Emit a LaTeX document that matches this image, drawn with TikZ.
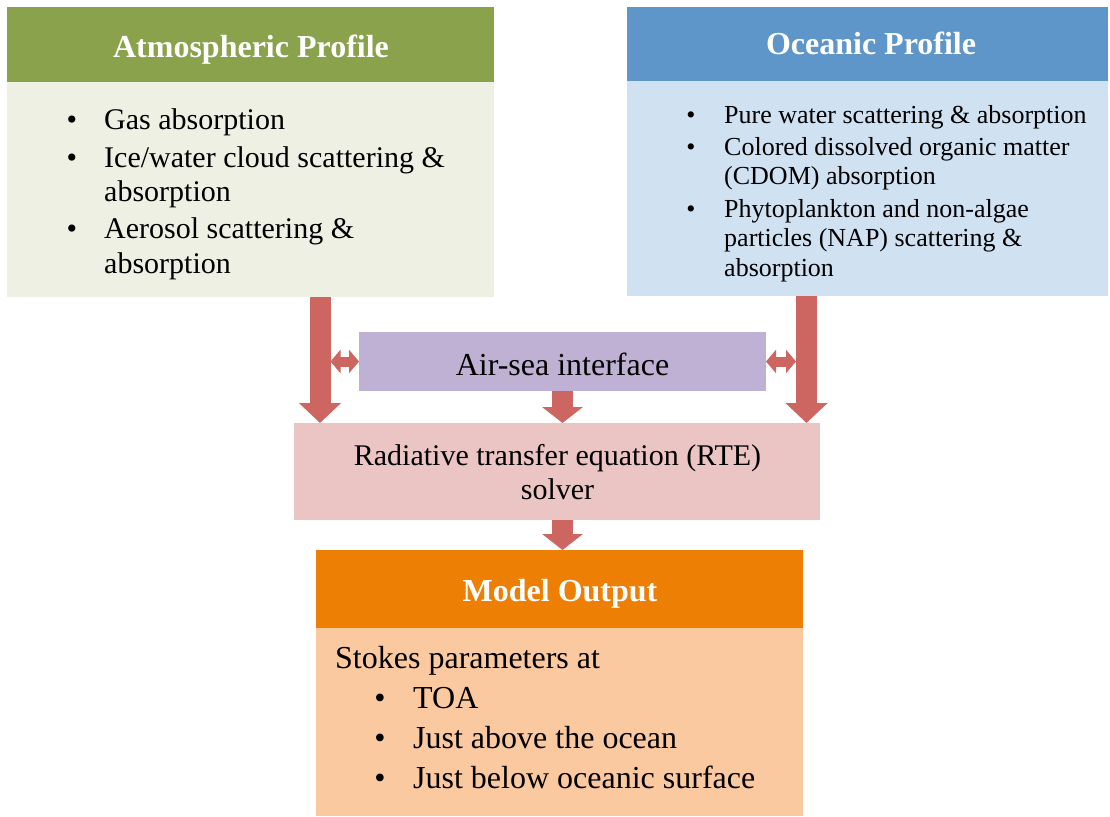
\documentclass[tikz,border=0pt]{standalone}
\usepackage{fontspec}
\setmainfont{Liberation Serif}
\usetikzlibrary{arrows.meta}
\definecolor{atmheadc}{HTML}{8AA24B}
\definecolor{atmbodyc}{HTML}{EDF0E3}
\definecolor{ocheadc}{HTML}{5F96C9}
\definecolor{ocbodyc}{HTML}{D0E1F2}
\definecolor{airseac}{HTML}{BFB1D3}
\definecolor{rtec}{HTML}{EBC5C4}
\definecolor{outheadc}{HTML}{ED7F05}
\definecolor{outbodyc}{HTML}{FAC9A0}
\definecolor{arrowc}{HTML}{CD6660}
\begin{document}
\begin{tikzpicture}[x=1pt,y=-1pt,
  panel/.style={draw=none, inner sep=0pt, outer sep=0pt, anchor=north west},
  hdr/.style={text=white, font=\fontsize{32}{36}\selectfont\bfseries, anchor=base, inner sep=0pt},
  txtA/.style={font=\fontsize{30}{34}\selectfont, anchor=base west, inner sep=0pt},
  txtAc/.style={font=\fontsize{30}{34}\selectfont, anchor=base, inner sep=0pt},
  txtB/.style={font=\fontsize{26}{30}\selectfont, anchor=base west, inner sep=0pt},
  txtC/.style={font=\fontsize{32}{36}\selectfont, anchor=base west, inner sep=0pt},
  txtCc/.style={font=\fontsize{32}{36}\selectfont, anchor=base, inner sep=0pt},
  bulA/.style={font=\fontsize{30}{34}\selectfont, anchor=base, inner sep=0pt},
  bulB/.style={font=\fontsize{26}{30}\selectfont, anchor=base, inner sep=0pt},
  bulC/.style={font=\fontsize{32}{36}\selectfont, anchor=base, inner sep=0pt},
  bigarrow/.style={draw=arrowc, line width=21pt, -{Triangle[length=20pt,width=41pt]}},
  midarrow/.style={draw=arrowc, line width=21pt, -{Triangle[length=16pt,width=40pt]}},
  dblarrow/.style={draw=arrowc, line width=10pt, {Triangle[length=10pt,width=23pt]}-{Triangle[length=10pt,width=23pt]}}
]
\useasboundingbox (0,0) rectangle (1110,816);

% Atmospheric profile
\node[panel, fill=atmheadc, minimum width=487pt, minimum height=75pt] (atmhead) at (7,7) {};
\node[panel, fill=atmbodyc, minimum width=487pt, minimum height=215pt] (atmbody) at (7,82) {};
\node[hdr] (atmtitle) at (251,57) {Atmospheric Profile};
\node[bulA] (ab1) at (72,129) {\textbullet};
\node[txtA] (at1) at (104,129) {Gas absorption};
\node[bulA] (ab2) at (72,167) {\textbullet};
\node[txtA] (at2) at (104,167) {Ice/water cloud scattering \&};
\node[txtA] (at2b) at (104,201) {absorption};
\node[bulA] (ab3) at (72,238) {\textbullet};
\node[txtA] (at3) at (104,238) {Aerosol scattering \&};
\node[txtA] (at3b) at (104,273) {absorption};

% Oceanic profile
\node[panel, fill=ocheadc, minimum width=481pt, minimum height=74pt] (ochead) at (627,7) {};
\node[panel, fill=ocbodyc, minimum width=481pt, minimum height=215pt] (ocbody) at (627,81) {};
\node[hdr] (octitle) at (871,55) {Oceanic Profile};
\node[bulB] (ob1) at (691,123) {\textbullet};
\node[txtB] (ot1) at (724,123) {Pure water scattering \& absorption};
\node[bulB] (ob2) at (691,155) {\textbullet};
\node[txtB] (ot2) at (724,155) {Colored dissolved organic matter};
\node[txtB] (ot2b) at (724,184) {(CDOM) absorption};
\node[bulB] (ob3) at (691,217) {\textbullet};
\node[txtB] (ot3) at (724,217) {Phytoplankton and non-algae};
\node[txtB] (ot3b) at (724,246) {particles (NAP) scattering \&};
\node[txtB] (ot3c) at (724,276) {absorption};

% Air-sea interface
\node[panel, fill=airseac, minimum width=407pt, minimum height=59pt] (airsea) at (359,332) {};
\node[txtCc] (airseatxt) at (562.5,375) {Air-sea interface};

% RTE solver
\node[panel, fill=rtec, minimum width=526pt, minimum height=97pt] (rte) at (294,423) {};
\node[txtAc] (rtetxt1) at (557.5,465) {Radiative transfer equation (RTE)};
\node[txtAc] (rtetxt2) at (557.5,499) {solver};

% Model output
\node[panel, fill=outheadc, minimum width=487pt, minimum height=78pt] (outhead) at (316,550) {};
\node[panel, fill=outbodyc, minimum width=487pt, minimum height=188pt] (outbody) at (316,628) {};
\node[hdr] (outtitle) at (560,601) {Model Output};
\node[txtC] (st0) at (335,668) {Stokes parameters at};
\node[bulC] (sb1) at (380,708) {\textbullet};
\node[txtC] (st1) at (413,708) {TOA};
\node[bulC] (sb2) at (380,748) {\textbullet};
\node[txtC] (st2) at (413,748) {Just above the ocean};
\node[bulC] (sb3) at (380,788) {\textbullet};
\node[txtC] (st3) at (413,788) {Just below oceanic surface};

% connectors
\coordinate (xl) at (320,0);
\coordinate (xlr) at (330.5,0);
\coordinate (xr) at (806.5,0);
\coordinate (xrl) at (796,0);
\coordinate (xm) at (562.5,0);
\draw[bigarrow] (atmbody.south -| xl) -- (rte.north -| xl);
\draw[bigarrow] (ocbody.south -| xr) -- (rte.north -| xr);
\draw[dblarrow] (airsea.west -| xlr) -- (airsea.west);
\draw[dblarrow] (airsea.east) -- (airsea.east -| xrl);
\draw[midarrow] (airsea.south -| xm) -- (rte.north -| xm);
\draw[midarrow] (rte.south -| xm) -- (outhead.north -| xm);
\end{tikzpicture}
\end{document}
